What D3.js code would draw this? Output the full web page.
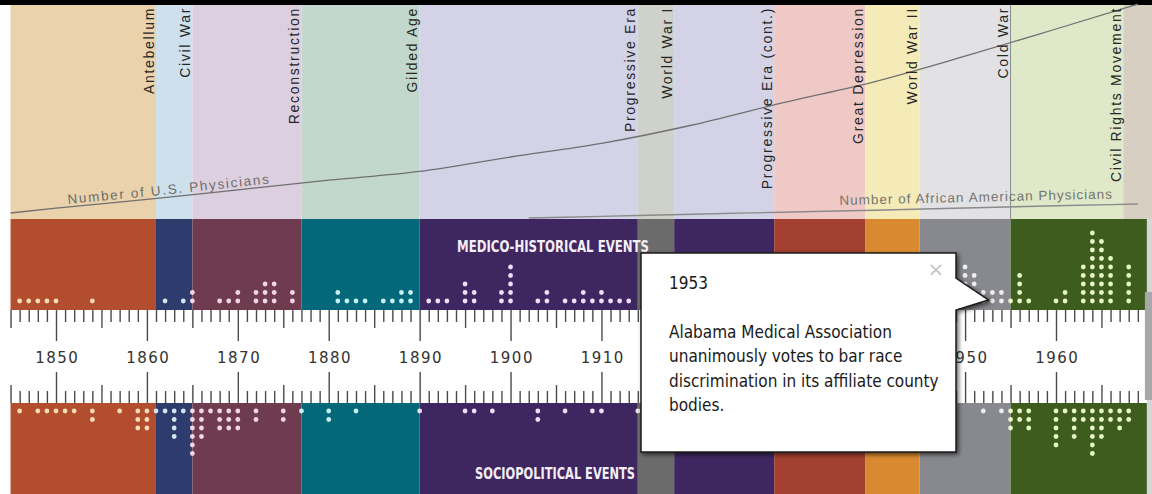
<!DOCTYPE html>
<html>
<head>
<meta charset="utf-8">
<script src="https://cdn.jsdelivr.net/npm/d3@7"></script>
<style>
  html, body { margin: 0; padding: 0; background: #fff; overflow: hidden; }
  svg { display: block; }
</style>
</head>
<body>
<svg id="chart" width="1152" height="494"></svg>
<script>
// --- DATA ---
const eraNames = ["Antebellum", "Civil War", "Reconstruction", "Gilded Age", "Progressive Era", "World War I",
  "Progressive Era (cont.)", "Great Depression", "World War II", "Cold War", "Civil Rights Movement"];
const eraStart = [1845, 1861, 1865, 1877, 1890, 1914, 1918, 1929, 1939, 1945, 1955];
const eraEnd   = [1861, 1865, 1877, 1890, 1914, 1918, 1929, 1939, 1945, 1955, 1967.4];
const eraPastel = ["#ead2ad", "#cde0ec", "#dccfe0", "#c2d8cc", "#d3d2e6", "#cfd1cb",
  "#d3d2e6", "#efc9c6", "#f5ebb9", "#e2e2e5", "#dfe8c8"];
const eraDark = ["#b24e2d", "#2d3c6c", "#6f3c4f", "#03697a", "#3e2760", "#6b6b6b",
  "#3e2760", "#a3402f", "#d98a30", "#88898f", "#3e5c1e"];
const eraDot = ["#f8dcb8", "#d2e4f4", "#f2d6e6", "#c8f0f2", "#ecdff8", "#e4e4e4",
  "#ecdff8", "#f6d2c8", "#fde8c0", "#eeeeee", "#e8f6c8"];
const lateEraStart = 1967.4;
const lateEraColor = "#d8cfc3";
const timelineStart = 1845, timelineEnd = 1970;

const decadeYears = d3.range(1850, 1961, 10);
const fiveYears = d3.range(1845, 1970, 10);
const minorYears = d3.range(1845, 1970);

// medico-historical events per year (upper band)
const medicalYears = [1846, 1847, 1848, 1849, 1850, 1854, 1862, 1864, 1865, 1868, 1869, 1870, 1872, 1873, 1874, 1876,
  1881, 1882, 1883, 1884, 1886, 1887, 1888, 1889, 1891, 1892, 1893, 1895, 1896, 1899, 1900, 1903, 1904,
  1906, 1907, 1908, 1909, 1910, 1911, 1912, 1913,
  1950, 1951, 1952, 1953, 1954, 1955, 1956, 1957, 1960, 1961, 1963, 1964, 1965, 1966, 1968];
const medicalCounts = [1, 1, 1, 1, 1, 1, 1, 1, 2, 1, 1, 2, 2, 3, 3, 2,
  2, 1, 1, 1, 1, 1, 2, 2, 1, 1, 1, 3, 2, 2, 5, 1, 2,
  1, 1, 2, 1, 2, 1, 1, 1,
  5, 4, 2, 2, 2, 1, 4, 1, 1, 2, 5, 9, 8, 6, 5];

// sociopolitical events per year (lower band)
const socialYears = [1846, 1848, 1849, 1850, 1851, 1852, 1854, 1857, 1859, 1860, 1861, 1862, 1863, 1864, 1865, 1866,
  1867, 1868, 1869, 1870, 1872, 1875, 1877, 1880, 1883, 1890, 1895, 1896, 1898, 1903, 1906, 1909, 1910, 1914,
  1952, 1954, 1955, 1956, 1957, 1960, 1961, 1962, 1963, 1964, 1965, 1966, 1967, 1968];
const socialCounts = [1, 1, 1, 1, 1, 1, 2, 1, 3, 3, 1, 1, 4, 1, 6, 4,
  1, 3, 3, 3, 2, 2, 1, 2, 1, 1, 1, 1, 1, 2, 1, 1, 1, 1,
  1, 1, 3, 2, 3, 5, 1, 4, 2, 6, 4, 2, 3, 2];

// physician counts
const usYears = [1845, 1850, 1860, 1870, 1880, 1890, 1900, 1910, 1920, 1930, 1940, 1950, 1960, 1969];
const usPhysicians = [40000, 46000, 57000, 69000, 81000, 92000, 110000, 127000, 150000, 178000, 204000, 236000, 270000, 301000];
const aaYears = [1902, 1910, 1920, 1930, 1940, 1950, 1960, 1969];
const aaPhysicians = [2250, 2650, 3200, 3700, 4200, 4750, 5300, 5750];

const tipYear = 1953;
const tipLines = ["Alabama Medical Association", "unanimously votes to bar race",
  "discrimination in its affiliate county", "bodies."];

// --- LAYOUT ---
const W = 1152, H = 494;
const bandTop = 219, rulerTop = 310, rulerBottom = 403;
const dotStep = 8.5;
const box = { left: 641, top: 253, right: 956, bottom: 452 };

const x = d3.scaleLinear().domain([1850, 1960]).range([56, 1056]);
const usY = d3.scaleLinear().domain([0, 300000]).range([245, 5]);
const aaY = d3.scaleLinear().domain([0, 6000]).range([227, 203]);

const svg = d3.select("#chart");

const defs = svg.append("defs");
defs.append("filter").attr("id", "shadow")
  .attr("x", "-10%").attr("y", "-10%").attr("width", "130%").attr("height", "130%")
  .append("feDropShadow")
  .attr("dx", 2).attr("dy", 2).attr("stdDeviation", 2.2)
  .attr("flood-color", "#000").attr("flood-opacity", 0.6);

// black strip at top
svg.append("rect").attr("x", 0).attr("y", 0).attr("width", W).attr("height", 5).attr("fill", "#000");

// --- ERA BACKGROUNDS ---
const eras = eraNames.map((name, i) => ({ name, start: eraStart[i], end: eraEnd[i], i }));

svg.append("g").selectAll("rect").data(eras).join("rect")
  .attr("x", d => x(d.start))
  .attr("y", 5)
  .attr("width", d => x(d.end) - x(d.start))
  .attr("height", bandTop - 5)
  .attr("fill", d => eraPastel[d.i]);

svg.append("rect")
  .attr("x", x(lateEraStart)).attr("y", 5)
  .attr("width", W - x(lateEraStart)).attr("height", bandTop - 5)
  .attr("fill", lateEraColor);

svg.append("line")
  .attr("x1", x(1955)).attr("x2", x(1955))
  .attr("y1", 5).attr("y2", bandTop)
  .attr("stroke", "#8c8c8c").attr("stroke-width", 1);

// --- PHYSICIAN LINES ---
const usLine = d3.line().x(d => x(d[0])).y(d => usY(d[1])).curve(d3.curveMonotoneX);
const aaLine = d3.line().x(d => x(d[0])).y(d => aaY(d[1])).curve(d3.curveMonotoneX);

svg.append("path")
  .attr("id", "usPath")
  .attr("d", usLine(d3.zip(usYears, usPhysicians)))
  .attr("fill", "none").attr("stroke", "#707070").attr("stroke-width", 1.3);

svg.append("path")
  .attr("id", "aaPath")
  .attr("d", aaLine(d3.zip(aaYears, aaPhysicians)))
  .attr("fill", "none").attr("stroke", "#8a8a8a").attr("stroke-width", 1.4);

// era labels
svg.append("g").selectAll("text").data(eras).join("text")
  .attr("transform", d => `translate(${x(d.end) - 2.5},7) rotate(-90)`)
  .attr("text-anchor", "end")
  .attr("font-family", "'Liberation Sans', Arial, sans-serif")
  .attr("font-size", 14)
  .attr("letter-spacing", 1.7)
  .attr("fill", "#262626")
  .text(d => d.name);

// line labels along the curves
svg.append("text")
  .attr("font-family", "'Liberation Sans', Arial, sans-serif")
  .attr("font-size", 13.5).attr("letter-spacing", 1.7)
  .attr("fill", "#6e6e66").attr("dy", -3)
  .append("textPath").attr("href", "#usPath").attr("startOffset", 58)
  .text("Number of U.S. Physicians");

svg.append("text")
  .attr("font-family", "'Liberation Sans', Arial, sans-serif")
  .attr("font-size", 13.5).attr("letter-spacing", 1.0)
  .attr("fill", "#75756e").attr("dy", -6)
  .append("textPath").attr("href", "#aaPath").attr("startOffset", 311)
  .text("Number of African American Physicians");

// --- EVENT BANDS ---
function bandEnd(d) {
  return d.i === eras.length - 1 ? timelineEnd : d.end;
}

svg.append("g").selectAll("rect").data(eras).join("rect")
  .attr("x", d => x(d.start))
  .attr("y", bandTop)
  .attr("width", d => x(bandEnd(d)) - x(d.start))
  .attr("height", rulerTop - bandTop)
  .attr("fill", d => eraDark[d.i]);

svg.append("g").selectAll("rect").data(eras).join("rect")
  .attr("x", d => x(d.start))
  .attr("y", rulerBottom)
  .attr("width", d => x(bandEnd(d)) - x(d.start))
  .attr("height", H - rulerBottom)
  .attr("fill", d => eraDark[d.i]);

// end of timeline on the right
svg.append("rect")
  .attr("x", x(timelineEnd)).attr("y", bandTop)
  .attr("width", W - x(timelineEnd)).attr("height", H - bandTop)
  .attr("fill", "#d6d6d6");
svg.append("rect")
  .attr("x", x(timelineEnd) - 2).attr("y", 292)
  .attr("width", W - x(timelineEnd) + 2).attr("height", 108)
  .attr("fill", "#a8a8a8");

// --- RULER ---
function drawTicks(years, len) {
  const up = svg.append("g").attr("transform", `translate(0,${rulerTop})`)
    .call(d3.axisBottom(x).tickValues(years).tickSize(len).tickFormat(""));
  const down = svg.append("g").attr("transform", `translate(0,${rulerBottom})`)
    .call(d3.axisTop(x).tickValues(years).tickSize(len).tickFormat(""));
  [up, down].forEach(g => {
    g.select(".domain").remove();
    g.selectAll("line").attr("stroke", "#4a4a4a").attr("stroke-width", 1.4);
  });
}
drawTicks(minorYears.filter(y => y % 5 !== 0), 12);
drawTicks(fiveYears, 18);
drawTicks(decadeYears, 31);

// decade labels (those fully under the open tooltip are not drawn)
const visibleDecades = decadeYears.filter(y => x(y) + 20 < box.left || x(y) > box.right);
const labels = svg.append("g").attr("transform", "translate(0,363)")
  .call(d3.axisBottom(x).tickValues(visibleDecades).tickSize(0).tickFormat(d3.format("d")));
labels.select(".domain").remove();
labels.selectAll("text")
  .attr("y", 0).attr("dy", 0).attr("dx", 0.8)
  .attr("font-family", "'DejaVu Sans', sans-serif")
  .attr("font-size", 15)
  .attr("letter-spacing", 1.5)
  .attr("fill", "#333");

// --- EVENT DOTS ---
function eraIndex(year) {
  for (let i = 0; i < eras.length; i++) {
    const end = i === eras.length - 1 ? timelineEnd : eraEnd[i];
    if (year >= eraStart[i] && year < end) return i;
  }
  return 0;
}

function stack(years, counts) {
  const out = [];
  years.forEach((year, i) => {
    for (let k = 0; k < counts[i]; k++) out.push({ year, k });
  });
  return out;
}

svg.append("g").selectAll("circle").data(stack(medicalYears, medicalCounts)).join("circle")
  .attr("cx", d => x(d.year))
  .attr("cy", d => rulerTop - 9 - d.k * dotStep)
  .attr("r", 2.4)
  .attr("fill", d => eraDot[eraIndex(d.year)]);

svg.append("g").selectAll("circle").data(stack(socialYears, socialCounts)).join("circle")
  .attr("cx", d => x(d.year))
  .attr("cy", d => rulerBottom + 8 + d.k * dotStep)
  .attr("r", 2.4)
  .attr("fill", d => eraDot[eraIndex(d.year)]);

// band titles
svg.append("text")
  .attr("x", 457).attr("y", 252)
  .attr("font-family", "'Liberation Sans Narrow', 'DejaVu Sans Condensed', sans-serif")
  .attr("font-weight", "bold").attr("font-size", 16)
  .attr("textLength", 192).attr("lengthAdjust", "spacingAndGlyphs")
  .attr("fill", "#f4eef6")
  .text("MEDICO-HISTORICAL EVENTS");

svg.append("text")
  .attr("x", 475).attr("y", 478.5)
  .attr("font-family", "'Liberation Sans Narrow', 'DejaVu Sans Condensed', sans-serif")
  .attr("font-weight", "bold").attr("font-size", 16)
  .attr("textLength", 160).attr("lengthAdjust", "spacingAndGlyphs")
  .attr("fill", "#f4eef6")
  .text("SOCIOPOLITICAL EVENTS");

// --- TOOLTIP ---
const tipX = x(tipYear) - 4, tipY = rulerTop - 10;
const tip = svg.append("g");
tip.append("path")
  .attr("d", `M${box.left},${box.top}H${box.right}V278L${tipX},${tipY}L${box.right},310V${box.bottom}H${box.left}Z`)
  .attr("fill", "#fff")
  .attr("stroke", "#1a1a1a").attr("stroke-width", 1.5)
  .attr("filter", "url(#shadow)");

tip.append("text")
  .attr("x", 936).attr("y", 276)
  .attr("text-anchor", "middle")
  .attr("font-family", "'DejaVu Sans', sans-serif")
  .attr("font-size", 20).attr("fill", "#c4c4c4")
  .text("\u00d7");

tip.append("text")
  .attr("x", 669).attr("y", 289)
  .attr("font-family", "'DejaVu Sans Condensed', 'DejaVu Sans', sans-serif")
  .attr("font-stretch", "condensed")
  .attr("font-size", 17).attr("fill", "#1a1a1a")
  .text(tipYear);

tip.append("g").selectAll("text").data(tipLines).join("text")
  .attr("x", 669).attr("y", (d, i) => 337.5 + i * 24.5)
  .attr("font-family", "'DejaVu Sans Condensed', 'DejaVu Sans', sans-serif")
  .attr("font-stretch", "condensed")
  .attr("font-size", 17).attr("fill", "#1a1a1a")
  .text(d => d);
</script>
</body>
</html>
